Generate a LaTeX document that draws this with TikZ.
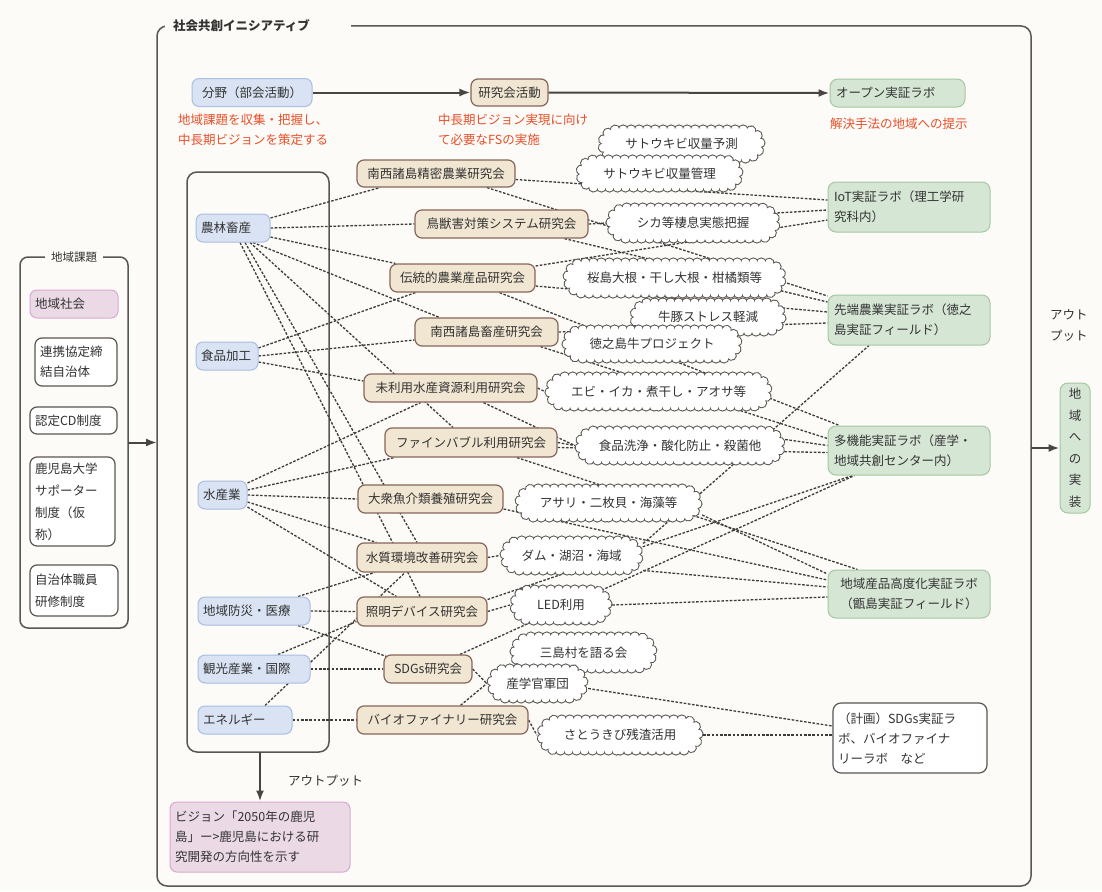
\documentclass[tikz,border=0pt]{standalone}
\usepackage{fontspec}
\setmainfont{Noto Sans CJK JP}
\usetikzlibrary{arrows.meta,decorations.markings,backgrounds}

\definecolor{pagebg}{HTML}{FCFBF7}
\definecolor{framec}{HTML}{5A5652}
\definecolor{txt}{HTML}{333333}
\definecolor{bluef}{HTML}{DAE3F3}
\definecolor{blued}{HTML}{A8BEE2}
\definecolor{tanf}{HTML}{F1E6D2}
\definecolor{tand}{HTML}{86665A}
\definecolor{greenf}{HTML}{D6E6D5}
\definecolor{greend}{HTML}{A3C8A0}
\definecolor{pinkf}{HTML}{EBDAE6}
\definecolor{pinkd}{HTML}{D9A8D0}
\definecolor{redt}{HTML}{E84F2A}
\definecolor{linkc}{HTML}{3C3C3C}

\tikzset{
  framebox/.style={draw=framec, line width=1.5pt, rounded corners=10pt, inner sep=0pt, outer sep=0pt},
  cat/.style={draw=blued, fill=bluef, line width=1pt, rounded corners=7pt, inner xsep=5pt, inner ysep=0pt, minimum height=28pt, align=left},
  grp/.style={draw=tand, fill=tanf, line width=1.2pt, rounded corners=7pt, inner xsep=3pt, inner ysep=0pt, minimum height=28pt, align=center},
  lab/.style={draw=greend, fill=greenf, line width=1pt, rounded corners=8pt, inner xsep=6pt, inner ysep=0pt, align=left},
  whitebox/.style={draw=framec, fill=white, line width=1.2pt, rounded corners=7pt, inner xsep=5pt, inner ysep=0pt, align=left},
  pinkbox/.style={draw=pinkd, fill=pinkf, line width=1pt, rounded corners=7pt, inner xsep=5pt, inner ysep=0pt, align=left},
  redtxt/.style={text=redt, anchor=north west, align=left, inner sep=0pt},
  link/.style={draw=linkc, line width=1.3pt, dash pattern=on 2.6pt off 1.6pt},
  arr/.style={draw=framec!80!black, line width=2pt, -{Latex[length=11pt,width=8pt]}},
}

% scalloped project cloud: name, centre x, centre y, width, height, text
\newcommand{\cloudnode}[6]{%
  \pgfmathsetmacro{\cldA}{#4/2-#5/2}%
  \pgfmathsetmacro{\cldR}{#5/2-4.8}%
  \path[decorate,decoration={markings,mark=between positions 0 and 1 step 8pt with {\draw[framec,line width=1.1pt] (0,0) circle (4.8pt);}}]
    (#2,#3+\cldR) -- (#2+\cldA,#3+\cldR) arc[start angle=90,end angle=-90,radius=\cldR]
    -- (#2-\cldA,#3-\cldR) arc[start angle=270,end angle=90,radius=\cldR] -- cycle;
  \path[decorate,decoration={markings,mark=between positions 0 and 1 step 8pt with {\fill[white] (0,0) circle (4.25pt);}}]
    (#2,#3+\cldR) -- (#2+\cldA,#3+\cldR) arc[start angle=90,end angle=-90,radius=\cldR]
    -- (#2-\cldA,#3-\cldR) arc[start angle=270,end angle=90,radius=\cldR] -- cycle;
  \fill[white] (#2,#3+\cldR) -- (#2+\cldA,#3+\cldR) arc[start angle=90,end angle=-90,radius=\cldR]
    -- (#2-\cldA,#3-\cldR) arc[start angle=270,end angle=90,radius=\cldR] -- cycle;
  \node[inner sep=0pt, minimum width=#4pt, minimum height=#5pt] (#1) at (#2,#3) {#6};%
}

\begin{document}
\begin{tikzpicture}[x=1pt, y=-1pt, font=\fontsize{12.5}{20}\selectfont, text=txt]
\useasboundingbox (0,0) rectangle (1102,891);

\begin{pgfonlayer}{background}
  \fill[pagebg] (0,0) rectangle (1102,891);
  % frames
  \node[framebox, minimum width=874pt, minimum height=860pt] (outer) at (594,456) {};
  \node[framebox, minimum width=142pt, minimum height=580pt] (inner) at (258,462) {};
  \node[framebox, rounded corners=8pt, minimum width=108pt, minimum height=371pt] (kadai) at (74,442.5) {};
\end{pgfonlayer}

% frame titles
\node[fill=pagebg, anchor=west, inner xsep=8pt, inner ysep=2pt, text width=170pt, font=\bfseries\fontsize{12.5}{15}\selectfont] (ttl) at (165,26) {社会共創イニシアティブ};
\node[fill=pagebg, inner xsep=6pt, inner ysep=2pt, font=\fontsize{11.5}{14}\selectfont] (kadaittl) at (74,257) {地域課題};

% regional issues column
\node[pinkbox, text width=78pt, minimum height=28pt] (shakai) at (74,304) {地域社会};
\node[whitebox, text width=72pt, minimum height=48pt] (renkei) at (76,362) {連携協定締\\結自治体};
\node[whitebox, text width=77pt, minimum height=27pt] (nintei) at (73.5,420.5) {認定CD制度};
\node[whitebox, text width=75pt, minimum height=89pt, font=\fontsize{12.5}{22}\selectfont] (supporter) at (72.5,501.5) {鹿児島大学\\サポーター\\制度（仮\\称）};
\node[whitebox, text width=78pt, minimum height=51pt, font=\fontsize{12.5}{22}\selectfont] (kenshu) at (74,590.5) {自治体職員\\研修制度};

% top row
\node[cat, align=center, minimum width=120pt] (bunya) at (252,92.5) {分野（部会活動）};
\node[grp, minimum width=77pt, minimum height=27pt] (kenkyu) at (509.5,92.5) {研究会活動};
\node[lab, text width=123pt, minimum height=28pt] (open) at (897.5,93) {オープン実証ラボ};
\node[redtxt] (red1) at (178,114) {地域課題を収集・把握し、\\中長期ビジョンを策定する};
\node[redtxt] (red2) at (438,114) {中長期ビジョン実現に向け\\て必要なFSの実施};
\node[redtxt] (red3) at (830,118) {解決手法の地域への提示};

% fields
\node[cat, text width=64pt] (cat1) at (233,228) {農林畜産};
\node[cat, text width=52pt] (cat2) at (227,356) {食品加工};
\node[cat, text width=39pt] (cat3) at (222.5,495) {水産業};
\node[cat, text width=102pt] (cat4) at (254,611) {地域防災・医療};
\node[cat, text width=102pt] (cat5) at (254,669) {観光産業・国際};
\node[cat, text width=84pt] (cat6) at (245,720) {エネルギー};

% study groups
\node[grp, minimum width=158pt, minimum height=27pt] (grp1) at (436,173.5) {南西諸島精密農業研究会};
\node[grp, minimum width=173pt] (grp2) at (501.5,224) {鳥獣害対策システム研究会};
\node[grp, minimum width=145pt] (grp3) at (462.5,278) {伝統的農業産品研究会};
\node[grp, minimum width=143pt] (grp4) at (486.5,332) {南西諸島畜産研究会};
\node[grp, minimum width=173pt] (grp5) at (450.5,388) {未利用水産資源利用研究会};
\node[grp, minimum width=172pt, minimum height=29pt] (grp6) at (471,442.5) {ファインバブル利用研究会};
\node[grp, minimum width=145pt] (grp7) at (430.5,499) {大衆魚介類養殖研究会};
\node[grp, minimum width=130pt, minimum height=29pt] (grp8) at (422,557.5) {水質環境改善研究会};
\node[grp, minimum width=130pt, minimum height=29pt] (grp9) at (422,611.5) {照明デバイス研究会};
\node[grp, minimum width=88pt] (grp10) at (428,669) {SDGs研究会};
\node[grp, minimum width=171pt] (grp11) at (442.5,720) {バイオファイナリー研究会};

% project clouds (later ones overlap earlier ones)
\cloudnode{cla}{681.5}{144}{167}{38}{サトウキビ収量予測}
\cloudnode{clb}{659.5}{173.5}{167}{37}{サトウキビ収量管理}
\cloudnode{clc}{693}{223}{174}{40}{シカ等棲息実態把握}
\cloudnode{cle}{708}{317}{156}{38}{牛豚ストレス軽減}
\cloudnode{cld}{674.5}{278}{223}{40}{桜島大根・干し大根・柑橘類等}
\cloudnode{clf}{652}{344}{180}{38}{徳之島牛プロジェクト}
\cloudnode{clg}{658.5}{391.5}{227}{39}{エビ・イカ・煮干し・アオサ等}
\cloudnode{clh}{680}{445.5}{210}{39}{食品洗浄・酸化防止・殺菌他}
\cloudnode{cli}{608.5}{503}{187}{38}{アサリ・二枚貝・海藻等}
\cloudnode{clj}{571.5}{555.5}{143}{39}{ダム・湖沼・海域}
\cloudnode{clk}{561}{605}{102}{40}{LED利用}
\cloudnode{cll}{583.5}{652.5}{147}{41}{三島村を語る会}
\cloudnode{clm}{537.5}{683.5}{101}{39}{産学官軍団}
\cloudnode{cln}{620}{735}{166}{40}{さとうきび残渣活用}

% demonstration labs
\node[lab, text width=150pt, minimum height=50pt] (lab1) at (909,207) {IoT実証ラボ（理工学研\\究科内）};
\node[lab, text width=150pt, minimum height=50pt] (lab2) at (909,320) {先端農業実証ラボ（徳之\\島実証フィールド）};
\node[lab, text width=150pt, minimum height=49pt] (lab3) at (909,450.5) {多機能実証ラボ（産学・\\地域共創センター内）};
\node[lab, text width=150pt, minimum height=48pt, align=center] (lab4) at (909,594) {地域産品高度化実証ラボ\\（甑島実証フィールド）};
\node[whitebox, rounded corners=8pt, text width=144pt, minimum height=70pt] (lab5) at (910,738) {（計画）SDGs実証ラ\\ボ、バイオファイナ\\リーラボ　など};

% outputs
\node[lab, align=center, text width=14pt, inner xsep=8pt, minimum height=130pt, font=\fontsize{12.5}{21.5}\selectfont] (impl) at (1075,448) {地\\域\\へ\\の\\実\\装};
\node[anchor=north west, align=left, inner sep=0pt, font=\fontsize{12.5}{21}\selectfont] (out2) at (1050,309) {アウト\\プット};
\node[pinkbox, text width=170pt, minimum height=70pt] (vision) at (260,837) {ビジョン「2050年の鹿児\\島」ー>鹿児島における研\\究開発の方向性を示す};
\node[anchor=west, inner sep=0pt] (out1) at (288,781) {アウトプット};

% flow arrows
\draw[arr] (bunya.east) -- (kenkyu.west);
\draw[arr] (kenkyu.east) -- (open.west);
\draw[arr] (kadai.east) -- (kadai.east -| outer.west);
\draw[arr] (outer.east |- impl.west) -- (impl.west);
\draw[arr] (vision.north |- inner.south) -- (vision.north);

% dotted links, drawn beneath the boxes
\begin{pgfonlayer}{background}
  % fields to study groups
  \draw[link] ([yshift=10pt]cat1.east) -- ([xshift=-56pt]grp1.south);
  \draw[link] (cat1.east) -- (grp2.west);
  \draw[link] ([yshift=-9pt]cat1.east) -- ([xshift=6pt]grp3.north west);
  \draw[link] ([xshift=20pt]cat1.south) -- ([xshift=25pt]grp4.north west);
  \draw[link] ([xshift=17pt]cat1.south) -- ([xshift=-18pt]grp6.north);
  \draw[link] ([xshift=12pt]cat1.south) -- ([xshift=-5pt]grp8.north);
  \draw[link] ([xshift=7pt]cat1.south) -- ([xshift=-2pt]grp9.north);
  \draw[link] ([yshift=8pt]cat2.east) -- ([xshift=-47pt]grp3.south);
  \draw[link] (cat2.east) -- ([yshift=-8pt]grp4.west);
  \draw[link] ([yshift=-6pt]cat2.east) -- ([yshift=7pt]grp5.west);
  \draw[link] ([yshift=12pt]cat3.east) -- ([xshift=-30pt]grp5.south);
  \draw[link] ([yshift=5pt]cat3.east) -- ([xshift=10pt]grp6.south west);
  \draw[link] (cat3.east) -- (grp7.west);
  \draw[link] ([yshift=-7pt]cat3.east) -- ([xshift=20pt]grp8.north west);
  \draw[link] ([yshift=-12pt]cat3.east) -- ([xshift=40pt]grp9.north west);
  \draw[link] ([xshift=44pt]cat4.north) -- ([xshift=18pt]grp8.south west);
  \draw[link] (cat4.east) -- (grp9.west);
  \draw[link] ([xshift=44pt]cat4.south) -- ([xshift=3pt,yshift=-2pt]grp10.north west);
  \draw[link] ([xshift=24pt]cat5.north) -- ([yshift=5pt]grp9.south west);
  \draw[link] (cat5.east) -- (grp10.west);
  \draw[link] ([xshift=20pt]cat6.north) -- ([xshift=-17pt]grp8.south);
  \draw[link] (cat6.east) -- (grp11.west);
  % study groups to projects and labs
  \draw[link] ([yshift=-6pt]grp1.east) -- ([yshift=7pt]lab1.west);
  \draw[link] ([xshift=51pt]grp1.south) -- ([yshift=24pt]lab2.west);
  \draw[link] (grp2.east) -- ([yshift=-3pt]lab1.west);
  \draw[link] ([xshift=63pt]grp2.south) -- ([yshift=18pt]lab2.west);
  \draw[link] ([yshift=12pt]grp3.east) -- ([yshift=-13pt]lab1.west);
  \draw[link] ([yshift=-8pt]grp3.east) -- ([yshift=8pt]lab2.west);
  \draw[link] ([xshift=37pt]grp3.south) -- ([xshift=12pt]lab3.north west);
  \draw[link] (grp4.east) -- ([yshift=-3pt]lab2.west);
  \draw[link] ([xshift=54pt]grp4.south) -- ([yshift=12pt]lab3.west);
  \draw[link] (grp5.east) -- (clg.west);
  \draw[link] ([xshift=33pt]grp5.south) -- (clh.west);
  \draw[link] (grp6.east) -- (clh.west);
  \draw[link] ([yshift=-5pt]grp6.east) -- ([yshift=-2pt]lab3.west);
  \draw[link] ([yshift=6pt]clh.east) -- ([yshift=5pt]lab3.west);
  \draw[link] ([xshift=46pt]grp6.south) -- ([xshift=30pt]lab4.north west);
  \draw[link] ([yshift=-10pt]grp7.east) -- ([yshift=14pt]lab4.west);
  \draw[link] ([yshift=-12pt]cli.east) -- ([yshift=20pt]lab4.west);
  \draw[link] (grp8.east) -- (clj.west);
  \draw[link] ([yshift=-15pt]clj.east) -- ([yshift=7pt]lab4.west);
  \draw[link] ([yshift=12pt]clj.east) -- ([xshift=-40pt]lab2.south);
  \draw[link] (grp9.east) -- (clk.west);
  \draw[link] (clk.east) -- ([yshift=-3pt]lab4.west);
  \draw[link] ([yshift=12pt]grp9.east) -- ([xshift=25pt]lab3.south west);
  \draw[link] ([xshift=32pt]grp10.north) -- ([xshift=27pt]lab3.south west);
  \draw[link] (grp10.east) -- (clm.west);
  \draw[link] ([xshift=18pt]grp11.north) -- (clm.west);
  \draw[link] ([yshift=-5pt]clm.east) -- ([yshift=12pt]lab5.west);
  \draw[link] (grp11.east) -- (cln.west);
  \draw[link] (cln.east) -- ([yshift=3pt]lab5.west);
\end{pgfonlayer}
\end{tikzpicture}
\end{document}
